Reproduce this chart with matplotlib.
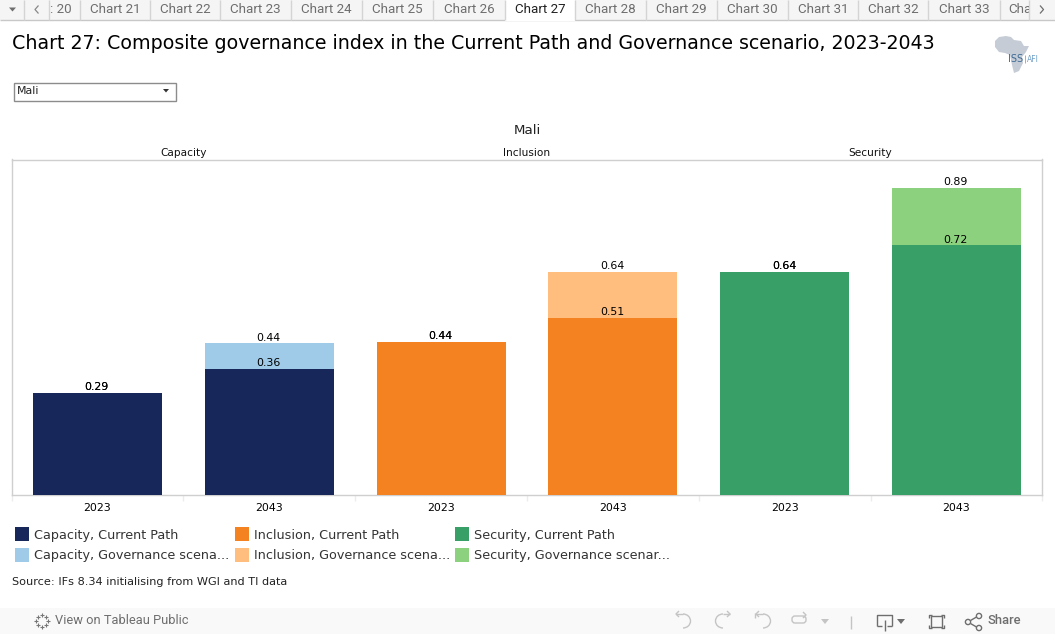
import matplotlib
import numpy as np

matplotlib.use('agg')

import matplotlib.pyplot as plt
from matplotlib.patches import Arc, FancyBboxPatch, Polygon, Rectangle

W, H = 1055, 634

groups = ['Capacity', 'Inclusion', 'Security']
years = ['2023', '2043', '2023', '2043', '2023', '2043']
current_path = [0.294, 0.364, 0.442, 0.511, 0.644, 0.720]
governance = [0.294, 0.437, 0.442, 0.644, 0.644, 0.887]
current_colors = ['#172759', '#172759', '#f58220', '#f58220', '#389f66', '#389f66']
governance_colors = ['#a0cbe8', '#a0cbe8', '#ffbe7d', '#ffbe7d', '#8cd17d', '#8cd17d']

legend_labels = [
    ['Capacity, Current Path', 'Capacity, Governance scena...'],
    ['Inclusion, Current Path', 'Inclusion, Governance scena...'],
    ['Security, Current Path', 'Security, Governance scenar...'],
]
legend_colors = [
    ['#172759', '#a0cbe8'],
    ['#f58220', '#ffbe7d'],
    ['#389f66', '#8cd17d'],
]
tab_labels = [': 20', 'Chart 21', 'Chart 22', 'Chart 23', 'Chart 24', 'Chart 25',
              'Chart 26', 'Chart 27', 'Chart 28', 'Chart 29', 'Chart 30',
              'Chart 31', 'Chart 32', 'Chart 33', 'Cha']
tab_edges = [49, 80, 150, 220, 291, 362, 433, 505, 575, 646, 717, 788, 858, 928, 1000, 1029]
ACTIVE_TAB = 7
TOOL_GREY = '#c4c4c4'
UI_GREY = '#6e6e6e'


def px_axes(fig, left, top, right, bottom):
    return fig.add_axes([left / W, 1 - bottom / H, (right - left) / W, (bottom - top) / H])


fig = plt.figure(figsize=(W / 100, H / 100), dpi=100, facecolor='white')

# page furniture is placed in pixels on a full-figure axes
ui = fig.add_axes([0, 0, 1, 1])
ui.set_xlim(0, W)
ui.set_ylim(H, 0)
ui.axis('off')


def line(xs, ys, color=UI_GREY, lw=1.0):
    ui.plot(xs, ys, color=color, lw=lw, solid_capstyle='butt')


# tab strip
ui.add_patch(Rectangle((0, 0), W, 19.5, fc='#f5f5f5', ec='none'))
line([0, W], [19.5, 19.5], '#c8c8c8', 1)
ui.add_patch(Rectangle((tab_edges[ACTIVE_TAB], 0), tab_edges[ACTIVE_TAB + 1] - tab_edges[ACTIVE_TAB],
                       20.5, fc='white', ec='none', zorder=2))
for x in [24, 49] + tab_edges[1:]:
    line([x, x], [0, 19.5], '#d4d4d4', 1)
for i, label in enumerate(tab_labels):
    active = i == ACTIVE_TAB
    left, right = tab_edges[i], tab_edges[i + 1]
    if label == ': 20':
        tx = 60.5
    elif label == 'Cha':
        tx = 1020
    else:
        tx = (left + right) / 2
    t = ui.text(tx, 9.5, label, ha='center', va='center', fontsize=9.6, family='Roboto',
                color='#222222' if active else UI_GREY, zorder=3)
    t.set_clip_path(Rectangle((left, 0), right - left, 20, transform=ui.transData))
    t.set_clip_on(True)
ui.add_patch(Polygon([(9, 7.5), (16, 7.5), (12.5, 11.5)], fc=UI_GREY, ec='none'))
line([38.5, 35, 38.5], [5.5, 9.5, 13.5], '#888888', 0.9)
line([1040, 1043.5, 1040], [5.5, 9.5, 13.5], UI_GREY, 0.9)

ui.text(12, 43.5, 'Chart 27: Composite governance index in the Current Path and Governance scenario, 2023-2043',
        fontsize=13.73, color='black', va='center', ha='left')

# logo
ui.add_patch(Polygon([(995, 41), (999, 37), (1006, 36), (1011, 37), (1014, 40), (1021, 41),
                      (1024, 46), (1029, 46), (1026, 52), (1022, 57), (1023, 63), (1019, 71),
                      (1014, 73), (1012, 65), (1010, 55), (1005, 53), (999, 52), (995, 47)],
                     fc='#c6ccd6', ec='none'))
ui.text(1008, 59.5, 'ISS', fontsize=7, color='#3d6a95', va='center')
line([1025, 1025], [55, 63], '#7fa6c9', 0.6)
ui.text(1027, 59.5, 'AFI', fontsize=5.5, color='#6f9fc8', va='center')

# country selector
ui.add_patch(Rectangle((13.5, 82.5), 162, 18, fc='white', ec='#8c8c8c', lw=1))
ui.text(17, 90.5, 'Mali', fontsize=7.9, va='center', color='#222222')
ui.add_patch(Polygon([(163, 89), (169, 89), (166, 92.5)], fc='#333333', ec='none'))

# chart
ax = px_axes(fig, 11.6, 159.5, 1042.4, 494.5)
x = np.arange(len(years))
ax.bar(x, governance, width=0.75, color=governance_colors, zorder=2)
ax.bar(x, current_path, width=0.75, color=current_colors, zorder=3)
for xi, cur, gov in zip(x, current_path, governance):
    ax.annotate(f'{gov:.2f}', (xi, gov), xytext=(-0.5, 0.3), textcoords='offset points',
                ha='center', va='bottom', fontsize=7.9, color='black', zorder=5)
    ax.annotate(f'{cur:.2f}', (xi, cur), xytext=(-0.5, 0.3), textcoords='offset points',
                ha='center', va='bottom', fontsize=7.9, color='black', zorder=5)
ax.set_xlim(-0.5, 5.5)
ax.set_ylim(0, 0.968)
ax.set_yticks([])
ax.set_xticks(x)
ax.set_xticklabels(years, fontsize=7.9, color='black')
ax.tick_params(axis='x', length=0, pad=5.8)
ax.set_xticks(np.arange(-0.5, 6, 1), minor=True)
ax.tick_params(axis='x', which='minor', length=4, color='#ececec', width=1)
for side in ax.spines.values():
    side.set_color('#cfcfcf')
    side.set_linewidth(1)
ax.patch.set_alpha(0)

ui.text(527, 130, 'Mali', fontsize=9.6, ha='center', va='center', color='#222222')
for i, group in enumerate(groups):
    ui.text(184 + i * 343, 153.5, group, fontsize=7.6, ha='center', va='center', color='#111111')

# legend
for col, (sx, tx) in enumerate([(15, 34.5), (235, 254), (455, 474)]):
    for row, sy in enumerate([527, 547.5]):
        ui.add_patch(Rectangle((sx, sy), 14, 14, fc=legend_colors[col][row], ec='none'))
        ui.text(tx, sy + 8.5, legend_labels[col][row], fontsize=9.15, va='center', color='#333333')

ui.text(12, 582, 'Source: IFs 8.34 initialising from WGI and TI data', fontsize=8.1,
        va='center', color='#222222')

# bottom toolbar
ui.add_patch(Rectangle((0, 608), W, 26, fc='#f9f9f9', ec='none'))
for dx, dy in [(0, -6), (0, 6), (-6, 0), (6, 0), (-4, -4), (4, -4), (-4, 4), (4, 4)]:
    line([41.5 + dx - 2, 41.5 + dx + 2], [620.5 + dy, 620.5 + dy], '#777777', 0.8)
    line([41.5 + dx, 41.5 + dx], [620.5 + dy - 2, 620.5 + dy + 2], '#777777', 0.8)
ui.text(55, 620.5, 'View on Tableau Public', fontsize=9.3, family='Roboto', color=UI_GREY, va='center')

for cx, flip in [(683, False), (723, True), (763, False)]:
    ui.add_patch(Arc((cx, 621), 15, 14, theta1=-90 if not flip else 90, theta2=90 if not flip else 270,
                     ec=TOOL_GREY, lw=1))
    tip = cx - 7 if not flip else cx + 7
    line([cx, tip], [614, 614], TOOL_GREY)
    step = 3 if not flip else -3
    line([tip + step, tip, tip + step], [611, 614, 617], TOOL_GREY)
line([755, 755], [613, 618], TOOL_GREY)
ui.add_patch(FancyBboxPatch((792, 616), 14, 7, boxstyle='round,pad=0,rounding_size=3',
                            fc='none', ec=TOOL_GREY, lw=1))
line([803, 806, 803], [612, 615, 618], TOOL_GREY)
ui.add_patch(Polygon([(821, 619), (829, 619), (825, 624)], fc=TOOL_GREY, ec='none'))
line([851, 851], [616, 629], TOOL_GREY)

line([877, 877, 892, 892], [626, 615, 615, 626], UI_GREY)
line([877, 882], [626, 626], UI_GREY)
line([887, 892], [626, 626], UI_GREY)
line([884.5, 884.5], [620, 631], UI_GREY)
ui.add_patch(Polygon([(897, 619), (905, 619), (901, 624)], fc=UI_GREY, ec='none'))
ui.add_patch(Rectangle((931, 616), 11, 11, fc='none', ec=UI_GREY, lw=1))
for px, py, sx, sy in [(929, 615, 1, 1), (944, 615, -1, 1), (929, 628, 1, -1), (944, 628, -1, -1)]:
    line([px + 3 * sx, px, px], [py, py, py + 3 * sy], UI_GREY)
for cx, cy in [(968, 622), (979, 616), (979, 628)]:
    ui.add_patch(plt.Circle((cx, cy), 2.6, fc='none', ec=UI_GREY, lw=1))
line([970.5, 976.5], [620.5, 617], UI_GREY)
line([970.5, 976.5], [623.5, 627], UI_GREY)
ui.text(988, 621, 'Share', fontsize=9.4, family='Roboto', color=UI_GREY, va='center', weight='medium')

fig.savefig('out.png', dpi=100)
plt.close(fig)
